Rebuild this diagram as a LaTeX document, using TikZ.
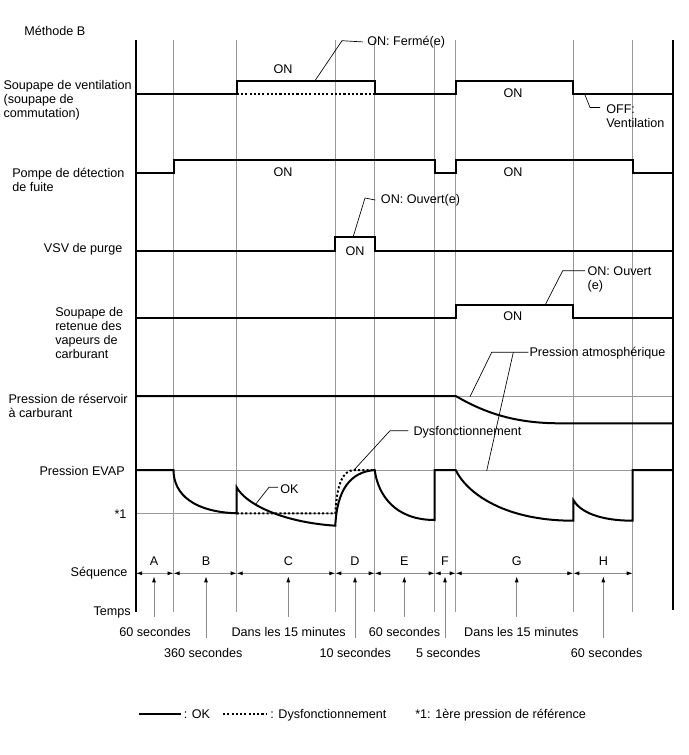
\documentclass[tikz,border=0pt]{standalone}
\usepackage{fontspec}
\setmainfont{Liberation Sans}
\usetikzlibrary{arrows.meta,calc,positioning}

\tikzset{
  sig/.style={line width=1.5pt},
  dys/.style={line width=1.5pt, dash pattern=on 1.6pt off 1.6pt},
  grid/.style={black!40, line width=0.6pt},
  axis/.style={line width=1.5pt},
  lead/.style={line width=0.5pt},
  seq/.style={black!45, line width=0.6pt, {Latex[black,length=4.5pt,width=3pt]}-{Latex[black,length=4.5pt,width=3pt]}},
  up/.style={black!45, line width=0.6pt, -{Latex[black,length=4.5pt,width=3pt]}, shorten >=2.3pt, shorten <=7.5pt},
  txt/.style={inner sep=0pt},
  multi/.style={inner sep=0pt, align=left, anchor=north west}
}

\begin{document}
\begin{tikzpicture}[x=0.75pt,y=-0.75pt,font=\fontsize{9.45}{10.5}\selectfont]
\useasboundingbox (0,0) rectangle (688,755);

% time marks
\coordinate (top) at (0,40);
\coordinate (bot) at (0,612);
\coordinate (t0) at (136,573.3);
\coordinate (t1) at (173.5,573.3);
\coordinate (t2) at (236.7,573.3);
\coordinate (t3) at (335.3,573.3);
\coordinate (t4) at (374.7,573.3);
\coordinate (t5) at (434.7,573.3);
\coordinate (t6) at (455.7,573.3);
\coordinate (t7) at (573.3,573.3);
\coordinate (t8) at (632.7,573.3);
\coordinate (t9) at (673.3,573.3);

\draw[grid] (t1 |- top) -- (t1 |- bot);
\draw[grid] (t2 |- top) -- (t2 |- bot);
\draw[grid] (t3 |- top) -- (t3 |- bot);
\draw[grid] (t4 |- top) -- (t4 |- bot);
\draw[grid] (t5 |- top) -- (t5 |- bot);
\draw[grid] (t6 |- top) -- (t6 |- bot);
\draw[grid] (t7 |- top) -- (t7 |- bot);
\draw[grid] (t8 |- top) -- (t8 |- bot);
\draw[grid] (136,470) -- (673,470);
\draw[grid] (136,513.3) -- (336,513.3);
\draw[grid] (455.7,396) -- (673,396);

\draw[axis] (t0 |- top) -- (t0 |- bot);
\draw[axis] (t9 |- top) -- (673.3,610);

\node[txt, anchor=base west] (titre) at (24,35.5) {Méthode B};

% signal labels
\node[multi] (vent) at (3.3,80) {Soupape de ventilation\\(soupape de\\commutation)};
\node[multi] (pompe) at (12,168) {Pompe de détection\\de fuite};
\node[txt, anchor=base east] (vsv) at (122.7,252.7) {VSV de purge};
\node[multi] (ret) at (55,306.7) {Soupape de\\retenue des\\vapeurs de\\carburant};
\node[multi] (res) at (8.3,394) {Pression de réservoir\\à carburant};
\node[txt, anchor=base east] (evap) at (125,475.7) {Pression EVAP};
\node[txt, anchor=base east] (ref) at (126.7,518.3) {*1};

% signals
\draw[sig] (136,94) -- (236.7,94) -- (236.7,80.7) -- (374.7,80.7) -- (374.7,94) -- (455.7,94) -- (455.7,80.7) -- (573.3,80.7) -- (573.3,94) -- (673.3,94);
\draw[dys] (236.7,94) -- (374.7,94);
\draw[sig] (136,172.7) -- (173.5,172.7) -- (173.5,160) -- (434.7,160) -- (434.7,172.7) -- (455.7,172.7) -- (455.7,160) -- (632.7,160) -- (632.7,172.7) -- (673.3,172.7);
\draw[sig] (136,250.7) -- (335.3,250.7) -- (335.3,237.3) -- (374.7,237.3) -- (374.7,250.7) -- (673.3,250.7);
\draw[sig] (136,317.7) -- (455.7,317.7) -- (455.7,305.3) -- (573.3,305.3) -- (573.3,317.7) -- (673.3,317.7);
\draw[sig] (136,396) -- (455.7,396) .. controls (485,413) and (515,423.3) .. (560,423.3) -- (673.3,423.3);
\draw[sig] (136,470) -- (173.5,470) .. controls (173.5,495) and (195,512) .. (236.7,513.3) -- (236.7,487.3) .. controls (245,503) and (280,522) .. (335.3,525.7) .. controls (337,490) and (350,472) .. (374.7,470) .. controls (378,495) and (395,520) .. (434.7,520) -- (434.7,470) -- (455.7,470) .. controls (465,490) and (500,520.7) .. (573.3,520.7) -- (573.3,500) .. controls (580,512) and (600,520.7) .. (632.7,520.7) -- (632.7,470) -- (673.3,470);
\draw[dys] (236.7,513.3) -- (335.3,513.3) .. controls (337,485) and (342,470) .. (355,470) -- (372,470);

% state texts
\node[txt, anchor=base] (on1) at (283,74) {ON};
\node[txt, anchor=base] (on2) at (513,97.7) {ON};
\node[txt, anchor=base] (on3) at (283,176.7) {ON};
\node[txt, anchor=base] (on4) at (513,176.7) {ON};
\node[txt, anchor=base] (on5) at (355,255) {ON};
\node[txt, anchor=base] (on6) at (512.7,320.7) {ON};

% leaders
\node[txt, anchor=base west] (ferme) at (367,45.3) {ON: Fermé(e)};
\coordinate (fermeP) at (315,80.7);
\draw[lead] (fermeP) -- (342,40.7) -- ([xshift=-3pt]ferme.west);

\node[multi] (off) at (606,104) {OFF:\\Ventilation};
\coordinate (offP) at (585,95);
\draw[lead] (offP) -- (590,107.5) -- (600,107.5);

\node[txt, anchor=base west] (ouv1) at (380.7,203.3) {ON: Ouvert(e)};
\coordinate (ouv1P) at (353,237.3);
\draw[lead] (ouv1P) -- (365,198) -- ([xshift=-4pt]ouv1.west);

\node[multi] (ouv2) at (587.3,266) {ON: Ouvert\\(e)};
\coordinate (ouv2P) at (545,305.3);
\draw[lead] (ouv2P) -- (562.7,270.7) -- (585,270.7);

\node[txt, anchor=base west] (atm) at (529.3,356.7) {Pression atmosphérique};
\coordinate (atmA) at (470,396.7);
\coordinate (atmB) at (486.7,470.7);
\coordinate (atmK) at (513.3,352.3);
\draw[lead] (atmA) -- (491.7,352.3) -- (528.3,352.3);
\draw[lead] (atmB) -- (atmK);

\node[txt, anchor=base west] (dysf) at (413.3,435) {Dysfonctionnement};
\coordinate (dysfP) at (354,470);
\draw[lead] (dysfP) -- (390,430.7) -- (408.3,430.7);

\node[txt, anchor=base west] (ok) at (280,493.3) {OK};
\coordinate (okP) at (255,505);
\draw[lead] (okP) -- (269,487.3) -- (278,487.3);

% sequence
\node[txt, anchor=base east] (seq) at (127.7,576.7) {Séquence};
\node[txt, anchor=base east] (temps) at (131,615.7) {Temps};
\draw[seq] (t0) -- (t1);
\draw[seq] (t1) -- (t2);
\draw[seq] (t2) -- (t3);
\draw[seq] (t3) -- (t4);
\draw[seq] (t4) -- (t5);
\draw[seq] (t5) -- (t6);
\draw[seq] (t6) -- (t7);
\draw[seq] (t7) -- (t8);

\node[txt, anchor=base] (A) at (154,565) {A};
\node[txt, anchor=base] (B) at (206,565) {B};
\node[txt, anchor=base] (C) at (288.3,565) {C};
\node[txt, anchor=base] (D) at (355,565) {D};
\node[txt, anchor=base] (E) at (404.3,565) {E};
\node[txt, anchor=base] (F) at (445,565) {F};
\node[txt, anchor=base] (G) at (516.7,565) {G};
\node[txt, anchor=base] (H) at (603.3,565) {H};

\node[txt, anchor=base] (sA) at (155,636) {60 secondes};
\node[txt, anchor=base] (sB) at (203.3,657.3) {360 secondes};
\node[txt, anchor=base] (sC) at (288.7,636) {Dans les 15 minutes};
\node[txt, anchor=base] (sD) at (355.3,657.3) {10 secondes};
\node[txt, anchor=base] (sE) at (404.5,636) {60 secondes};
\node[txt, anchor=base] (sF) at (448.3,657.3) {5 secondes};
\node[txt, anchor=base] (sG) at (521.3,636) {Dans les 15 minutes};
\node[txt, anchor=base] (sH) at (606.7,657.3) {60 secondes};

\draw[up] (A |- sA.north) -- (A |- t0);
\draw[up] (B |- sB.north) -- (B |- t0);
\draw[up] (C |- sC.north) -- (C |- t0);
\draw[up] (D |- sD.north) -- (D |- t0);
\draw[up] (E |- sE.north) -- (E |- t0);
\draw[up] (F |- sF.north) -- (F |- t0);
\draw[up] (G |- sG.north) -- (G |- t0);
\draw[up] (H |- sH.north) -- (H |- t0);

% legend
\coordinate (lg1) at (139,713.5);
\coordinate (lg2) at (181,713.5);
\coordinate (lg3) at (223,713.5);
\coordinate (lg4) at (267,713.5);
\draw[sig] (lg1) -- (lg2);
\node[txt, anchor=base west] (lgok) at (183.5,718.3) {: OK};
\draw[dys] (lg3) -- (lg4);
\node[txt, anchor=base west] (lgdys) at (270,718.3) {: Dysfonctionnement};
\node[txt, anchor=base west] (lgref) at (415,718.3) {*1: 1ère pression de référence};
\end{tikzpicture}
\end{document}
